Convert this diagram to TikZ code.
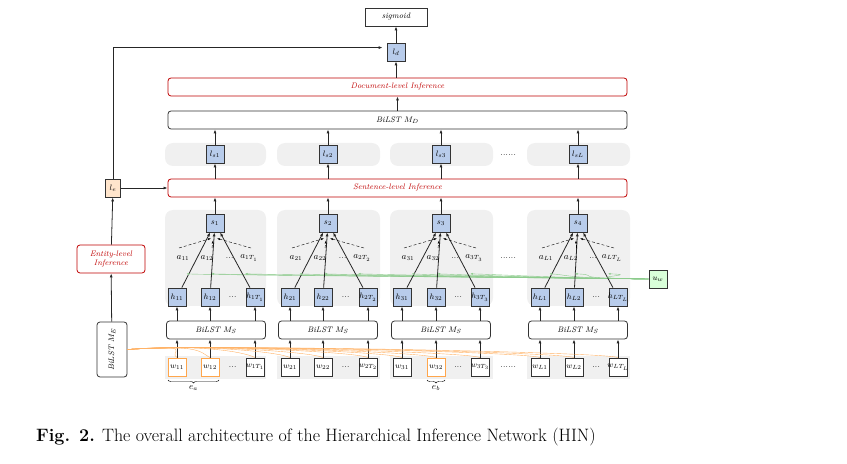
\documentclass[tikz,border=0pt]{standalone}
\usetikzlibrary{arrows.meta,decorations.pathreplacing,calc}
\definecolor{sb}{rgb}{0.72,0.80,0.92}
\begin{document}
\begin{tikzpicture}[x=1bp,y=-1bp,
 every node/.style={font=\footnotesize\itshape},
 box/.style={draw=black!80,thick,minimum width=18bp,minimum height=18bp,inner sep=0pt},
 bl/.style={box,fill=sb},
 wb/.style={box,fill=white},
 ob/.style={box,draw=orange!70,fill=white},
 wide/.style={draw=black!80,thick,rounded corners=3bp,minimum height=18bp,inner sep=0pt},
 red/.style={wide,draw=red!75!black,text=red!75!black},
 gray/.style={fill=black!6,rounded corners=8bp},
 ar/.style={-{Latex[length=4bp,width=3bp]},thick,black!85},
 gr/.style={green!55!black!45,thin,-{Latex[length=2.5bp,width=2bp]}},
 orl/.style={orange!60,thin}]
\useasboundingbox (0,0) rectangle (847,464);
\foreach \a/\b in {165/266,277/380,390/493,527/630}{
 \fill[gray] (\a,143) rectangle (\b,166);
 \fill[gray] (\a,210) rectangle (\b,306);
 \fill[black!6] (\a,356) rectangle (\b,379);}
\node[box,fill=white,minimum width=62bp] (sig) at (396,17) {sigmoid};
\node[bl] (ld) at (396,52) {$l_d$};
\node[red,minimum width=459bp] (doc) at (397.5,87) {Document-level Inference};
\node[wide,minimum width=459bp] (md) at (397.5,120) {BiLST $M_D$};
\node[red,minimum width=459bp] (sen) at (397.5,188) {Sentence-level Inference};
\node[box,fill=orange!20,minimum width=15bp] (le) at (113,188) {$l_e$};
\node[red,minimum width=68bp,minimum height=28bp,align=center] (ent) at (111,259) {Entity-level\\Inference};
\node[wide,minimum width=30bp,minimum height=55bp] (me) at (112,349.5) {};
\node[rotate=90] at (me) {BiLST $M_E$};
\node[box,fill=green!15] (uw) at (658,279) {$u_w$};
\draw[ar] (ld) -- (sig);
\draw[ar] (doc.north -| ld) -- (ld);
\draw[ar] (me) -- (ent);
\draw[ar] (ent) -- (le);
\draw[ar] (le) -- (sen);
\draw[ar] (le.north) |- ([xshift=-4bp,yshift=-5bp]ld.north west);
\draw[ar] (md) -- (doc);
\node at (508,155) {......};
\node at (508,258) {......};
\node at (508,367) {......};
\foreach \g/\s/\xa/\xb/\xc/\lx/\la/\lb/\lc/\wa/\wb/\wc/\ms/\ls in {
 1/215/177/210/255/215/a_{11}/a_{12}/a_{1T_1}/ob/ob/wb/216/l_{s1},
 2/328/290/323/368/328/a_{21}/a_{22}/a_{2T_2}/wb/wb/wb/328/l_{s2},
 3/441/402/436/480/441/a_{31}/a_{32}/a_{3T_3}/wb/ob/wb/441/l_{s3},
 4/578/540/574/618/578/a_{L1}/a_{L2}/a_{LT_L}/wb/wb/wb/578/l_{sL}}{
 \node[bl] (l\g) at (\lx,154) {$\ls$};
 \draw[ar] (sen.north -| l\g) -- (l\g);
 \draw[ar] (l\g) -- (md.south -| l\g);
 \node[bl] (s\g) at (\s,223) {$s_{\g}$};
 \draw[ar] (s\g) -- (sen.south -| s\g);
 \node[wide,minimum width=99bp] (bm\g) at (\ms,330) {BiLST $M_S$};
 \foreach \k/\x/\w/\lab in {1/\xa/\wa/\la,2/\xb/\wb/\lb,3/\xc/\wc/\lc}{
  \node[bl] (h\g\k) at (\x,297) {};
  \node[\w] (w\g\k) at (\x,367) {};
  \draw[ar] (h\g\k) -- (s\g);
  \draw[ar] (w\g\k) -- (bm\g.south -| w\g\k);
  \draw[ar] (bm\g.north -| h\g\k) -- (h\g\k);
  \coordinate (t\g\k) at ($(h\g\k.north)!0.25!(s\g.south)$);
  \draw[gr] (uw.west) .. controls (560,278) and (\x+30,275) .. (t\g\k);
  \draw[orl] (w\g\k.north) .. controls (\x-10,352) and (200,344) .. (me.east);
 }
 \node[font=\small] at (\xa+6,258) {$\la$};
 \node[font=\small] at (\xb-3,258) {$\lb$};
 \node at ({(\xb+\xc)/2-3},258) {...};
 \node[font=\small] at (\xc-6,258) {$\lc$};
 \node at ({(\xb+\xc)/2},297) {...};
 \node at ({(\xb+\xc)/2},367) {...};
 \draw[-{Latex[length=3bp,width=2bp]},densely dashed,thin] (\xa+2,248) -- ($(s\g.south)+(-4,6)$);
 \draw[-{Latex[length=3bp,width=2bp]},densely dashed,thin] (\xb+2,248) -- ($(s\g.south)+(-2,8)$);
 \draw[-{Latex[length=3bp,width=2bp]},densely dashed,thin] (\xc-4,248) -- ($(s\g.south)+(2,6)$);
}
\foreach \g/\k/\lab in {1/1/w_{11},1/2/w_{12},1/3/w_{1T_1},2/1/w_{21},2/2/w_{22},2/3/w_{2T_2},3/1/w_{31},3/2/w_{32},3/3/w_{3T_3},4/1/w_{L1},4/2/w_{L2},4/3/w_{LT_L}}{
 \node at (w\g\k) {$\lab$};}
\foreach \g/\k/\lab in {1/1/h_{11},1/2/h_{12},1/3/h_{1T_1},2/1/h_{21},2/2/h_{22},2/3/h_{2T_2},3/1/h_{31},3/2/h_{32},3/3/h_{3T_3},4/1/h_{L1},4/2/h_{L2},4/3/h_{LT_L}}{
 \node at (h\g\k) {$\lab$};}
\draw[decorate,decoration={brace,mirror,amplitude=3bp},thin] (168,380) -- (219,380) node[midway,below=2bp,font=\small] {$e_a$};
\draw[decorate,decoration={brace,mirror,amplitude=3bp},thin] (427,380) -- (445,380) node[midway,below=2bp,font=\small] {$e_b$};
\node[font=\fontsize{18}{21}\selectfont,anchor=west,inner sep=0pt] at (36,437) {\textbf{Fig. 2.} The overall architecture of the Hierarchical Inference Network (HIN)};
\end{tikzpicture}
\end{document}
